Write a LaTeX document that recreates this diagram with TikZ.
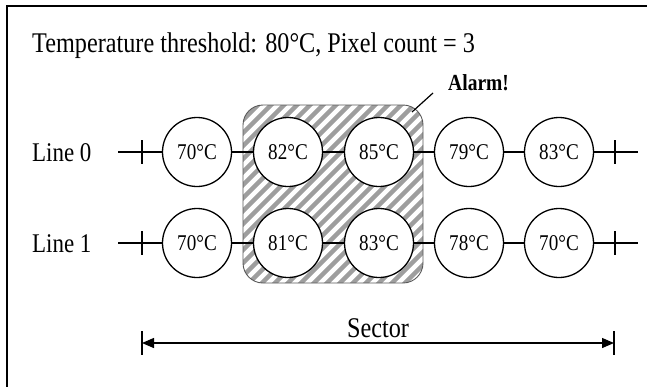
\documentclass[tikz,border=0pt]{standalone}
\usepackage{fontspec}
\setmainfont[FakeStretch=0.85]{Liberation Serif}
\usetikzlibrary{arrows.meta}
\begin{document}
\begin{tikzpicture}[x=1pt,y=-1pt,
  cell/.style={circle, draw, line width=1.3pt, minimum size=69pt, inner sep=0pt, fill=white,
    font=\fontsize{22.5}{24}\selectfont},
  wire/.style={line width=1.3pt},
  hatch/.style={line width=4.5pt, color=black!38},
  lbl/.style={anchor=base west, inner sep=0pt, font=\fontsize{27}{30}\selectfont},
  arr/.style={line width=1.3pt, {Triangle[length=12pt,width=10pt]}-{Triangle[length=12pt,width=10pt]}}
]
\useasboundingbox (0,0) rectangle (647,386);
\clip (0,0) rectangle (647,386);
\fill[white] (0,0) rectangle (647,386);
% frame
\draw[line width=2pt] (7,6) rectangle (700,450);
% title
\node[lbl, font=\fontsize{28.5}{30}\selectfont] (title) at (32,52) {Temperature threshold: 80°C, Pixel count = 3};
% alarm region
\begin{scope}
  \clip[rounded corners=20pt] (243,105) rectangle (423,283);
  \foreach \k in {0,...,32} {
    \draw[hatch] ({60+13*\k},290) -- ++(200,-200);
  }
\end{scope}
\draw[rounded corners=20pt, line width=0.9pt, black!65] (243,105) rectangle (423,283);
\node[anchor=base west, inner sep=0pt, font=\fontsize{23}{24}\selectfont\bfseries] (alarm) at (448,90.5) {Alarm!};
\coordinate (al1) at (412,112);
\coordinate (al2) at (433,93);
\draw[line width=1.2pt] (al1) -- (al2);
% line labels
\node[lbl] (line0) at (32,161.5) {Line 0};
\node[lbl] (line1) at (32,252.5) {Line 1};
% cells row 0
\node[cell] (a1) at (197,152) {70°C};
\node[cell] (a2) at (288,152) {82°C};
\node[cell] (a3) at (379,152) {85°C};
\node[cell] (a4) at (469,152) {79°C};
\node[cell] (a5) at (559,152) {83°C};
% cells row 1
\node[cell] (b1) at (197,243) {70°C};
\node[cell] (b2) at (288,243) {81°C};
\node[cell] (b3) at (379,243) {83°C};
\node[cell] (b4) at (469,243) {78°C};
\node[cell] (b5) at (559,243) {70°C};
% connectors
\foreach \r in {a,b} {
  \draw[wire] (\r1) -- (\r2);
  \draw[wire] (\r2) -- (\r3);
  \draw[wire] (\r3) -- (\r4);
  \draw[wire] (\r4) -- (\r5);
}
% stubs
\coordinate (la) at (118,152); \coordinate (ra) at (638,152);
\coordinate (lb) at (118,243); \coordinate (rb) at (638,243);
\draw[wire] (la) -- (a1); \draw[wire] (a5) -- (ra);
\draw[wire] (lb) -- (b1); \draw[wire] (b5) -- (rb);
\coordinate (tla1) at (142,140); \coordinate (tla2) at (142,164);
\coordinate (tra1) at (615,140); \coordinate (tra2) at (615,164);
\coordinate (tlb1) at (142,231); \coordinate (tlb2) at (142,255);
\coordinate (trb1) at (615,231); \coordinate (trb2) at (615,255);
\draw[wire] (tla1) -- (tla2); \draw[wire] (tra1) -- (tra2);
\draw[wire] (tlb1) -- (tlb2); \draw[wire] (trb1) -- (trb2);
% sector
\coordinate (sL) at (142,343); \coordinate (sR) at (614,343);
\draw[arr] (sL) -- (sR);
\coordinate (sL1) at (142,331); \coordinate (sL2) at (142,355);
\coordinate (sR1) at (614,331); \coordinate (sR2) at (614,355);
\draw[wire] (sL1) -- (sL2); \draw[wire] (sR1) -- (sR2);
\node[anchor=base, inner sep=0pt, font=\fontsize{28.5}{30}\selectfont] (sector) at (378,337) {Sector};
\end{tikzpicture}
\end{document}
